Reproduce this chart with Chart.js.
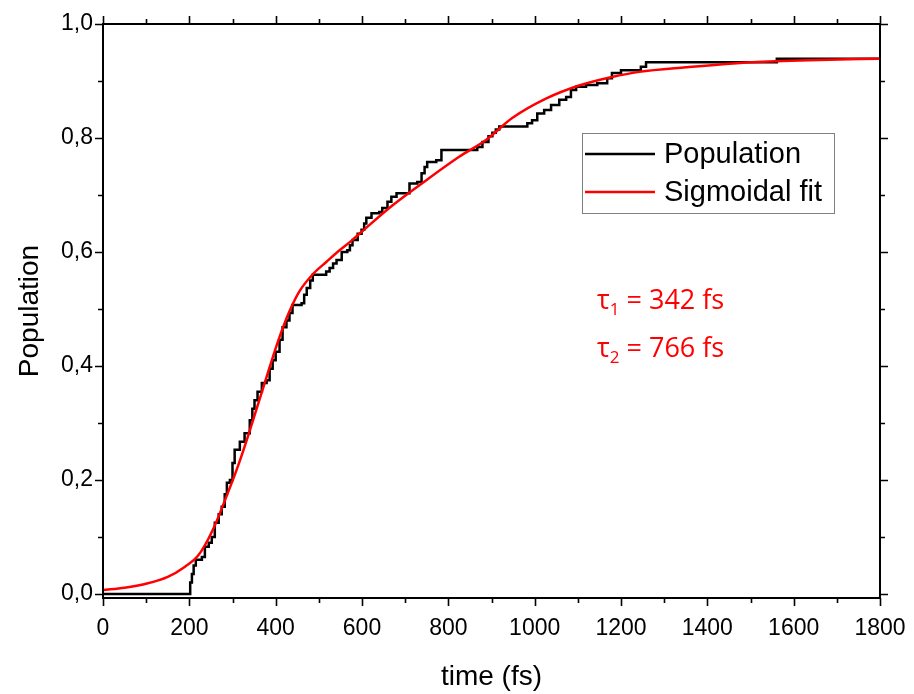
<!DOCTYPE html>
<html>
<head>
<meta charset="utf-8">
<script src="https://cdn.jsdelivr.net/npm/chart.js@4"></script>
<style>
  html, body { margin: 0; padding: 0; background: #fff; }
  #wrap { width: 914px; height: 694px; }
</style>
</head>
<body>
<div id="wrap"><canvas id="chart" width="914" height="694"></canvas></div>
<script>
// population (step data)
const popTime = [0,202,206,210,215,229,236,245,252,259,268,275,282,287,294,300,305,317,328,340,346,351,358,368,379,386,393,400,409,416,425,432,439,460,466,472,480,486,517,525,533,541,553,566,572,578,590,599,605,610,622,640,647,659,668,680,710,728,738,745,751,772,784,867,879,893,902,910,918,983,994,1006,1022,1038,1057,1073,1084,1096,1119,1145,1168,1179,1200,1246,1258,1561,1800];
const popValue = [0,0.02,0.035,0.05,0.06,0.065,0.083,0.09,0.1,0.125,0.14,0.153,0.175,0.195,0.2,0.23,0.253,0.267,0.282,0.305,0.325,0.34,0.355,0.37,0.375,0.395,0.41,0.425,0.446,0.468,0.48,0.493,0.507,0.51,0.525,0.537,0.55,0.56,0.566,0.572,0.58,0.586,0.6,0.603,0.612,0.621,0.632,0.639,0.65,0.66,0.668,0.67,0.677,0.688,0.697,0.703,0.72,0.723,0.738,0.749,0.758,0.761,0.779,0.784,0.793,0.803,0.809,0.815,0.82,0.826,0.831,0.843,0.849,0.858,0.867,0.872,0.884,0.89,0.893,0.896,0.905,0.914,0.919,0.925,0.933,0.939,0.939];

// sigmoidal fit curve
const fitTime = [0,50,100,150,190,220,254,289,312,333,358,386,409,432,455,486,518,548,576,600,671,749,825,888,948,1026,1103,1179,1242,1350,1503,1658,1800];
const fitValue = [0.007,0.011,0.018,0.03,0.048,0.067,0.112,0.177,0.223,0.27,0.33,0.398,0.451,0.496,0.531,0.561,0.583,0.603,0.62,0.636,0.682,0.726,0.767,0.797,0.835,0.869,0.892,0.907,0.916,0.924,0.933,0.937,0.939];

const xTicks = [0,100,200,300,400,500,600,700,800,900,1000,1100,1200,1300,1400,1500,1600,1700,1800];
const yTicks = [0,0.1,0.2,0.3,0.4,0.5,0.6,0.7,0.8,0.9,1.0];
const seriesNames = ["Population", "Sigmoidal fit"];
const tauLabels = [["1", " = 342 fs"], ["2", " = 766 fs"]];

const FONT = "'Liberation Sans', Arial, sans-serif";

// frame, outward ticks on all four sides, legend box and tau notes
const framePlugin = {
    id: "frame",
    afterDraw(chart) {
        const ctx = chart.ctx;
        const a = chart.chartArea;
        const xs = chart.scales.x, ys = chart.scales.y;
        ctx.save();
        ctx.strokeStyle = "#000";
        ctx.lineWidth = 2;
        ctx.strokeRect(a.left, a.top, a.right - a.left, a.bottom - a.top);

        ctx.lineWidth = 1.6;
        ctx.beginPath();
        xTicks.forEach(v => {
            let px = Math.round(xs.getPixelForValue(v)) + 0.5;
            let len = v % 200 === 0 ? 8 : 5;
            ctx.moveTo(px, a.bottom); ctx.lineTo(px, a.bottom + len);
            ctx.moveTo(px, a.top); ctx.lineTo(px, a.top - len);
        });
        yTicks.forEach((v, i) => {
            let py = Math.round(ys.getPixelForValue(v)) + 0.5;
            let len = i % 2 === 0 ? 8 : 5;
            ctx.moveTo(a.left, py); ctx.lineTo(a.left - len, py);
            ctx.moveTo(a.right, py); ctx.lineTo(a.right + len, py);
        });
        ctx.stroke();

        // legend
        ctx.strokeStyle = "#808080";
        ctx.lineWidth = 1;
        ctx.strokeRect(582.5, 133.5, 252, 80);
        const colors = ["#000000", "#ff0000"];
        ctx.font = "29px " + FONT;
        ctx.textBaseline = "middle";
        ctx.textAlign = "left";
        seriesNames.forEach((name, i) => {
            let y = 154 + i * 38;
            ctx.strokeStyle = colors[i];
            ctx.lineWidth = 2.5;
            ctx.beginPath();
            ctx.moveTo(585, y); ctx.lineTo(655, y);
            ctx.stroke();
            ctx.fillStyle = "#000";
            ctx.fillText(name, 664, y + 1);
        });

        // tau annotations
        ctx.fillStyle = "#ff0000";
        ctx.textBaseline = "alphabetic";
        tauLabels.forEach((t, i) => {
            let y = 309 + i * 48;
            let x = 597;
            ctx.font = "27px 'Open Sans', " + FONT;
            ctx.fillText("τ", x, y);
            x += ctx.measureText("τ").width;
            ctx.font = "17px 'Open Sans', " + FONT;
            ctx.fillText(t[0], x, y + 6);
            x += ctx.measureText(t[0]).width;
            ctx.font = "27px 'Open Sans', " + FONT;
            ctx.fillText(t[1], x, y);
        });
        ctx.restore();
    }
};

new Chart(document.getElementById("chart"), {
    type: "line",
    data: {
        datasets: [
            {
                label: seriesNames[0],
                data: popTime.map((t, i) => ({ x: t, y: popValue[i] })),
                borderColor: "#000000",
                borderWidth: 2.5,
                stepped: "before",
                pointRadius: 0,
                fill: false,
                order: 2
            },
            {
                label: seriesNames[1],
                data: fitTime.map((t, i) => ({ x: t, y: fitValue[i] })),
                borderColor: "#ff0000",
                borderWidth: 2.5,
                cubicInterpolationMode: "monotone",
                pointRadius: 0,
                fill: false,
                order: 1
            }
        ]
    },
    options: {
        responsive: false,
        animation: false,
        layout: { padding: { top: 24, right: 34, left: 0, bottom: 0 } },
        plugins: {
            legend: { display: false },
            tooltip: { enabled: false }
        },
        scales: {
            x: {
                type: "linear",
                min: 0,
                max: 1800,
                afterBuildTicks: s => { s.ticks = xTicks.map(v => ({ value: v })); },
                afterFit: s => { s.height = 96; },
                // invisible tick marks just push the labels down; the real ones are drawn by the plugin
                grid: { display: true, drawOnChartArea: false, drawTicks: true, tickLength: 17, tickColor: "rgba(0,0,0,0)" },
                border: { display: false },
                ticks: {
                    autoSkip: false,
                    maxRotation: 0,
                    padding: 0,
                    color: "#000",
                    font: { family: FONT, size: 23 },
                    callback: v => (v % 200 === 0 ? String(v) : "")
                },
                title: {
                    display: true,
                    text: "time (fs)",
                    color: "#000",
                    font: { family: FONT, size: 28 },
                    padding: { top: 0, bottom: 0 }
                }
            },
            y: {
                type: "linear",
                min: -0.007,
                max: 1.0,
                afterBuildTicks: s => { s.ticks = yTicks.map(v => ({ value: v })); },
                afterFit: s => { s.width = 103; },
                grid: { display: false, drawTicks: false },
                border: { display: false },
                ticks: {
                    autoSkip: false,
                    padding: 10,
                    color: "#000",
                    font: { family: FONT, size: 23 },
                    callback: (v, i) => (i % 2 === 0 ? v.toFixed(1).replace(".", ",") : "")
                },
                title: {
                    display: true,
                    text: "Population",
                    color: "#000",
                    font: { family: FONT, size: 28 },
                    padding: { top: 13, bottom: 0 }
                }
            }
        }
    },
    plugins: [framePlugin]
});
</script>
</body>
</html>
